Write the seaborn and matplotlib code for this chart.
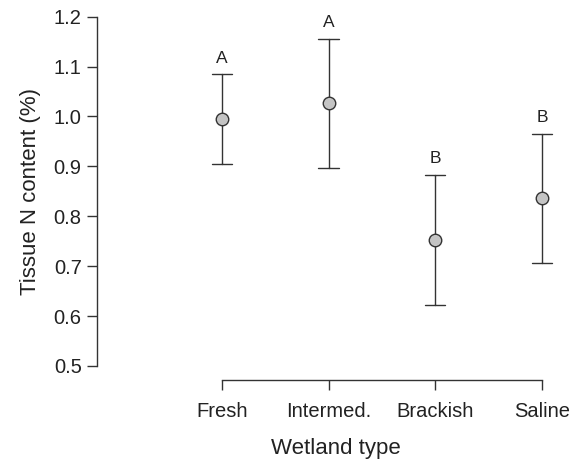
import matplotlib
matplotlib.use("Agg")
import matplotlib.pyplot as plt
import seaborn as sns
import pandas as pd

categories = ["Fresh", "Intermed.", "Brackish", "Saline"]
means = [0.995, 1.027, 0.753, 0.837]
lower = [0.904, 0.896, 0.623, 0.707]
upper = [1.085, 1.156, 0.883, 0.965]
letters = ["A", "A", "B", "B"]
yticks = [0.5, 0.6, 0.7, 0.8, 0.9, 1.0, 1.1, 1.2]

sns.set_theme(style="ticks")
plt.rcParams["font.family"] = ["Liberation Sans", "DejaVu Sans"]

rows = []
for c, lo, m, up in zip(categories, lower, means, upper):
    for v in (lo, m, up):
        rows.append({"Wetland type": c, "N": v})
df = pd.DataFrame(rows)

fig = plt.figure(figsize=(5.77, 4.62), dpi=100)
ax = fig.add_axes([0.168, 0.208, 0.827, 0.756])

dark = "#333333"
sns.pointplot(data=df, x="Wetland type", y="N", order=categories,
              estimator="median", errorbar=("pi", 100),
              linestyle="none", markers="o", color=dark, capsize=0.19,
              err_kws={"linewidth": 1.0, "color": dark},
              markersize=9, markeredgewidth=1.0,
              markerfacecolor="#c4c4c4", markeredgecolor=dark, ax=ax)

for line in ax.lines:
    if line.get_marker() == "o":
        line.set_markerfacecolor("#c4c4c4")
        line.set_markeredgecolor(dark)
        line.set_zorder(5)

for i, (up, let) in enumerate(zip(upper, letters)):
    ax.text(i, up + 0.017, let, ha="center", va="bottom", fontsize=12.5, color="#222222")

ax.set_ylim(0.5, 1.2)
ax.set_xlim(-1.17, 3.3)
ax.set_yticks(yticks)
ax.set_yticklabels([f"{t:.1f}" for t in yticks])
ax.spines["top"].set_visible(False)
ax.spines["right"].set_visible(False)
ax.spines["bottom"].set_position(("outward", 10))
ax.spines["bottom"].set_bounds(0, 3)
ax.spines["left"].set_bounds(0.5, 1.2)
for s in ("left", "bottom"):
    ax.spines[s].set_color(dark)
    ax.spines[s].set_linewidth(1.0)
ax.tick_params(axis="both", colors=dark, labelcolor="#222222", labelsize=14.5,
               length=7, width=1.0, direction="out")
ax.tick_params(axis="x", pad=9)
ax.tick_params(axis="y", pad=4)
ax.set_xlabel("Wetland type", fontsize=16, color="#222222", labelpad=12)
ax.set_ylabel("Tissue N content (%)", fontsize=16, color="#222222", labelpad=9)

fig.savefig("out.png", dpi=100)
